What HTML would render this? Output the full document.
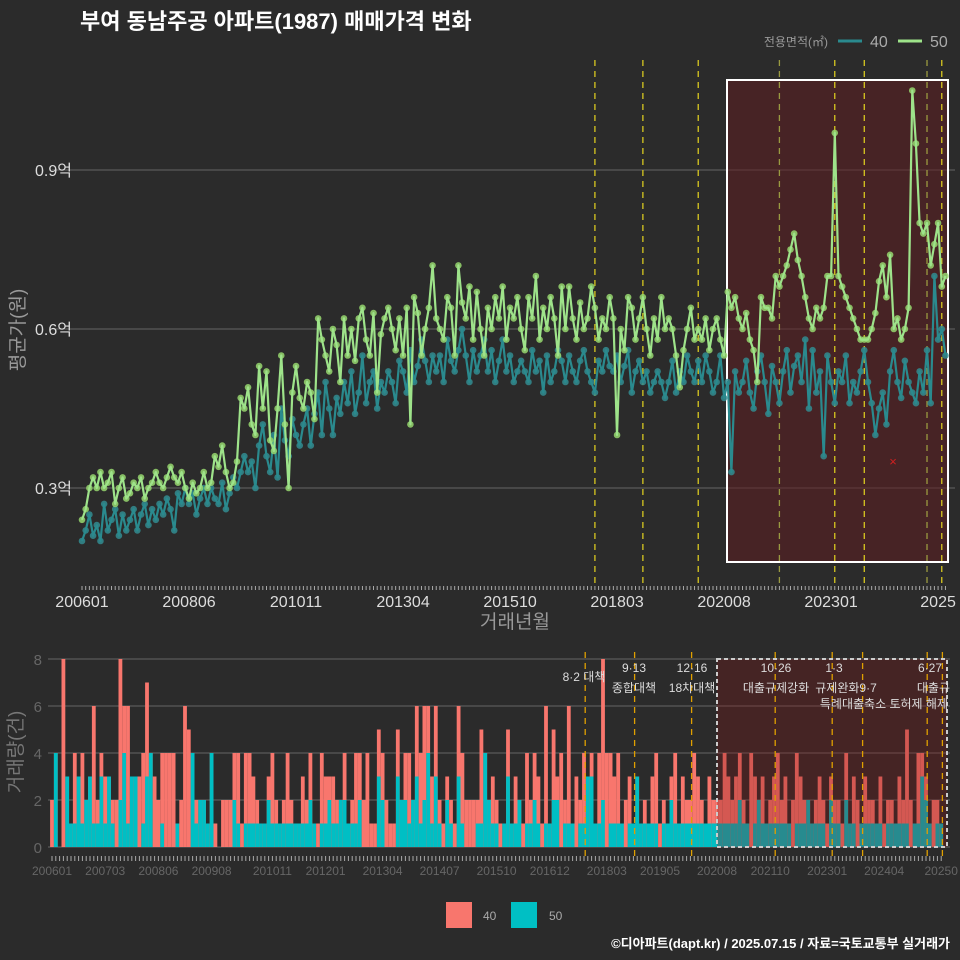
<!DOCTYPE html>
<html><head><meta charset="utf-8"><style>
body{margin:0;background:#2b2b2b;}
svg{display:block;font-family:"Liberation Sans","Noto Sans CJK KR",sans-serif;}
</style></head><body>
<svg id="c" width="960" height="960" viewBox="0 0 960 960">
<rect width="960" height="960" fill="#2b2b2b"/>
<text x="80" y="29" fill="#ffffff" font-size="22" font-weight="bold">부여 동남주공 아파트(1987) 매매가격 변화</text>
<g>
<text x="828" y="46" fill="#999" font-size="12" text-anchor="end">전용면적(㎡)</text>
<line x1="838" y1="41" x2="862" y2="41" stroke="#2a8a8e" stroke-width="3"/>
<text x="870" y="47" fill="#aaa" font-size="16">40</text>
<line x1="898" y1="41" x2="922" y2="41" stroke="#9ee38a" stroke-width="3"/>
<text x="930" y="47" fill="#aaa" font-size="16">50</text>
</g>
<g id="gtop"></g>
<g id="gbot"></g>
<g>
<rect x="446" y="902" width="26" height="26" fill="#f8766d"/>
<text x="483" y="920" fill="#aaa" font-size="12">40</text>
<rect x="511" y="902" width="26" height="26" fill="#00bfc4"/>
<text x="549" y="920" fill="#aaa" font-size="12">50</text>
</g>
<text x="950" y="948" fill="#fff" font-size="13" font-weight="bold" text-anchor="end">©디아파트(dapt.kr) / 2025.07.15 / 자료=국토교통부 실거래가</text>
</svg>
<script>
const price50=[.24,.26,.30,.32,.30,.33,.30,.31,.33,.27,.30,.32,
.28,.29,.31,.30,.32,.28,.30,.31,.33,.31,.30,.32,
.34,.32,.31,.33,.30,.28,.31,.29,.30,.33,.30,.31,
.36,.34,.38,.33,.30,.31,.35,.47,.45,.49,.42,.40,
.53,.45,.52,.39,.37,.45,.55,.42,.30,.48,.53,.47,
.45,.50,.48,.43,.62,.58,.55,.52,.60,.57,.50,.62,
.55,.60,.54,.62,.64,.58,.55,.63,.48,.59,.62,.64,
.60,.56,.62,.55,.64,.42,.66,.63,.55,.60,.64,.72,
.62,.60,.58,.66,.64,.55,.72,.65,.62,.68,.58,.67,
.60,.55,.64,.60,.66,.62,.68,.58,.64,.62,.66,.60,
.56,.66,.62,.70,.58,.64,.60,.66,.62,.55,.68,.60,
.68,.62,.58,.65,.60,.62,.68,.64,.58,.62,.60,.66,
.62,.40,.60,.56,.66,.64,.58,.62,.66,.60,.55,.62,
.58,.66,.60,.62,.60,.55,.49,.56,.60,.64,.58,.60,
.58,.62,.56,.60,.62,.58,.55,.67,.64,.66,.62,.60,
.63,.58,.56,.50,.66,.64,.64,.62,.70,.68,.70,.72,
.75,.78,.73,.70,.66,.62,.60,.64,.62,.64,.70,.70,
.97,.70,.68,.66,.64,.62,.60,.58,.58,.58,.60,.63,
.69,.72,.66,.74,.60,.62,.58,.60,.64,1.05,.95,.80,
.78,.80,.72,.76,.80,.68,.70];
const price40=[.20,.22,.25,.21,.23,.20,.27,.22,.24,.26,.21,.25,
.22,.24,.26,.22,.25,.27,.23,.26,.24,.27,.25,.28,
.26,.22,.29,.27,.30,.27,.29,.25,.28,.30,.27,.30,
.28,.27,.31,.26,.29,.32,.30,.33,.36,.33,.35,.30,
.38,.42,.36,.33,.40,.32,.45,.39,.36,.43,.40,.38,
.42,.45,.38,.44,.48,.40,.50,.45,.40,.47,.44,.50,
.46,.52,.44,.48,.55,.46,.50,.52,.45,.50,.48,.52,
.50,.46,.54,.52,.48,.56,.50,.53,.58,.54,.50,.55,
.52,.55,.50,.58,.54,.52,.56,.60,.55,.50,.56,.52,
.55,.58,.52,.56,.50,.54,.58,.52,.55,.50,.52,.54,
.52,.50,.56,.52,.54,.48,.55,.50,.52,.56,.54,.50,
.55,.52,.50,.54,.56,.52,.50,.48,.54,.52,.56,.53,
.52,.55,.50,.53,.56,.48,.52,.54,.50,.52,.48,.50,
.52,.50,.47,.50,.54,.48,.52,.50,.55,.52,.50,.54,
.50,.55,.52,.48,.50,.55,.47,.50,.33,.52,.48,.50,
.54,.48,.45,.52,.55,.50,.44,.53,.50,.46,.52,.56,
.48,.53,.55,.50,.58,.45,.56,.48,.52,.36,.55,.50,
.46,.52,.50,.55,.46,.50,.48,.52,.56,.50,.46,.40,
.45,.48,.42,.52,.56,.50,.47,.54,.50,.48,.46,.52,
.48,.56,.46,.70,.58,.60,.55];
const volTotal=[2,4,0,8,3,1,4,3,4,2,3,6,
2,4,3,3,2,2,8,6,6,2,1,3,
4,7,2,3,2,4,4,4,4,1,2,6,
5,4,2,2,2,1,4,1,0,2,2,2,
4,4,1,4,4,3,2,1,1,3,4,2,
1,2,4,2,1,1,3,2,4,1,1,4,
3,3,3,2,2,4,1,2,4,4,2,4,
1,1,5,4,2,1,1,5,2,4,4,2,
6,4,6,6,3,6,2,1,3,2,1,6,
4,2,2,2,2,5,4,2,3,2,1,1,
5,1,3,2,1,4,2,4,3,1,6,1,
5,3,4,2,6,1,3,2,4,2,4,1,
4,8,4,4,3,4,1,2,3,1,3,1,
2,1,3,4,1,2,1,3,4,1,3,2,
2,4,3,2,1,3,2,2,2,4,3,2,
3,4,2,1,4,3,2,3,1,2,3,4,
2,3,1,2,4,3,2,2,1,2,3,2,
1,3,2,2,1,4,1,3,2,1,3,2,
2,1,3,1,2,2,1,3,2,5,2,1,
4,4,3,1,2,2,1];
const vol50=[0,4,0,0,3,1,1,3,1,2,3,1,
1,3,1,3,1,0,2,4,1,3,3,0,
1,3,4,0,0,1,0,0,0,1,0,0,
0,4,1,2,2,1,4,0,0,0,0,0,
2,1,0,1,1,1,1,1,1,2,1,1,
1,1,1,1,1,1,1,1,2,1,0,1,
1,2,1,1,2,2,1,1,1,2,0,0,
0,0,3,2,0,0,0,3,2,2,1,2,
3,1,2,4,1,3,1,0,2,1,0,3,
1,0,0,0,1,1,4,2,1,1,0,1,
3,1,1,2,0,1,1,2,1,0,1,1,
2,2,0,1,1,1,0,1,1,3,3,1,
1,2,0,1,1,1,1,0,1,1,3,1,
1,1,1,1,0,1,1,2,1,1,1,1,
1,1,1,1,1,1,1,1,1,1,1,1,
1,2,1,1,0,1,2,1,1,1,1,1,
1,1,1,0,1,1,1,2,1,1,1,1,
0,2,1,1,0,2,1,1,0,1,1,1,
1,1,1,0,1,1,1,1,1,1,0,1,
1,3,2,1,0,1,1];
const priceTicks=[0.3,0.6,0.9];
const priceTickLabels=["0.3억","0.6억","0.9억"];
const volTicks=[0,2,4,6,8];
const topLabelIdx=[0,29,58,87,116,145,174,203,232];
const topLabels=["200601","200806","201011","201304","201510","201803","202008","202301","2025"];
const botLabelIdx=[0,14,28,42,58,72,87,102,117,131,146,160,175,189,204,219,234];
const botLabels=["200601","200703","200806","200908","201011","201201","201304","201407","201510","201612","201803","201905","202008","202110","202301","202404","20250"];
const policyIdx=[139,152,167,189,204,212,229,233];

const NS="http://www.w3.org/2000/svg";
function mk(p,t,a){const e=document.createElementNS(NS,t);for(const k in a)e.setAttribute(k,a[k]);p.appendChild(e);return e;}
const gTop=document.getElementById('gtop'),gBot=document.getElementById('gbot');
const n=price50.length;
const xT=i=>82+i*3.69, yT=v=>488-(v-0.3)*530;
const xB=i=>52+i*3.8, yB=v=>847-v*23.5;

priceTicks.forEach((t,k)=>{
 let l=mk(gTop,'line',{x1:52,x2:955,y1:yT(t),y2:yT(t),stroke:'#666','stroke-width':1});
 
 
 let tx=mk(gTop,'text',{x:72,y:yT(t)+6,fill:'#ddd','font-size':16,'text-anchor':'end'});tx.textContent=priceTickLabels[k];
 
 
});
let hr=mk(gTop,'rect',{x:727,y:80,width:221,height:482,fill:'rgba(95,30,32,0.55)',stroke:'#fff','stroke-width':2});


policyIdx.forEach((p,k)=>{
 let l=mk(gTop,'line',{x1:xT(p),x2:xT(p),y1:60,y2:588,stroke:(k==3||k==6)?'#9a9a40':'#d8c820','stroke-width':1.3,'stroke-dasharray':'6,5'});
 
 
});
function drawLine(arr,col,name){
 let d='';arr.forEach((v,i)=>{if(v==null)return;d+=(d?'L':'M')+xT(i).toFixed(1)+','+yT(v).toFixed(1);});
 let p=mk(gTop,'path',{d:d,fill:'none',stroke:col,'stroke-width':2.2,'stroke-linejoin':'round'});
 
 
}
function drawDots(arr,col,name){
 arr.forEach((v,i)=>{if(v==null)return;
  let c=mk(gTop,'circle',{cx:xT(i),cy:yT(v),r:3.3,fill:col});
  
  
 });
}
drawDots(price40,'rgba(50,140,145,0.85)','point-40');
drawLine(price40,'#2a8a8e','line-40');
drawDots(price50,'rgba(150,215,110,0.85)','point-50');
drawLine(price50,'#9ee38a','line-50');
let rx=mk(gTop,'text',{x:893,y:466,fill:'#d02020','font-size':13,'text-anchor':'middle'});rx.textContent='×';


for(let i=0;i<n;i++){let t=mk(gTop,'line',{x1:xT(i),x2:xT(i),y1:586,y2:590,stroke:'#aaa','stroke-width':1});
 
 }
topLabelIdx.forEach((i,k)=>{
 let t=mk(gTop,'text',{x:xT(i),y:607,fill:'#ddd','font-size':16,'text-anchor':'middle'});t.textContent=topLabels[k];
 
 
});
let xt=mk(gTop,'text',{x:515,y:628,fill:'#999','font-size':19,'text-anchor':'middle'});xt.textContent='거래년월';


let yt=mk(gTop,'text',{x:0,y:0,fill:'#999','font-size':19,'text-anchor':'middle',transform:'translate(24,330) rotate(-90)'});yt.textContent='평균가(원)';



volTicks.forEach(t=>{
 let l=mk(gBot,'line',{x1:48,x2:950,y1:yB(t),y2:yB(t),stroke:'#666','stroke-width':1});
 
 
 let tx=mk(gBot,'text',{x:42,y:yB(t)+6,fill:'#666','font-size':15,'text-anchor':'end'});tx.textContent=t;
 
 
});
for(let i=0;i<n;i++){
 const tot=Math.max(volTotal[i],vol50[i]);
 if(tot>0){let b=mk(gBot,'rect',{x:xB(i)-1.9,y:yB(tot),width:3.8,height:yB(0)-yB(tot),fill:'#f8766d'});
 
 }
 if(vol50[i]>0){let b=mk(gBot,'rect',{x:xB(i)-1.9,y:yB(vol50[i]),width:3.8,height:yB(0)-yB(vol50[i]),fill:'#00bfc4'});
 
 }
}
let br=mk(gBot,'rect',{x:717,y:659,width:230,height:188,fill:'rgba(130,20,20,0.3)',stroke:'#ccc','stroke-width':2,'stroke-dasharray':'4,3'});


policyIdx.forEach((p,k)=>{
 let l=mk(gBot,'line',{x1:xB(p)+5,x2:xB(p)+5,y1:652,y2:858,stroke:'#e0a000','stroke-width':1.3,'stroke-dasharray':'6,5'});
 
 
});
const ann=[[584,681,"8·2 대책"],[634,672,"9·13"],[634,692,"종합대책"],[692,672,"12·16"],[692,692,"18차대책"],[776,672,"10·26"],[776,692,"대출규제강화"],[834,672,"1·3"],[846,692,"규제완화9·7"],[948,708,"특례대출축소 토허제 해제"],[942,672,"6·27"],[950,692,"대출규"]];
ann.forEach(a=>{
 let t=mk(gBot,'text',{x:a[0],y:a[1],fill:'#ddd','font-size':12,'text-anchor':a[0]>920?'end':'middle'});t.textContent=a[2];
 
 
});
for(let i=0;i<n;i++){let t=mk(gBot,'line',{x1:xB(i),x2:xB(i),y1:856,y2:861,stroke:'#aaa','stroke-width':1});
 
 }
botLabelIdx.forEach((i,k)=>{
 let t=mk(gBot,'text',{x:xB(i),y:875,fill:'#666','font-size':12,'text-anchor':'middle'});t.textContent=botLabels[k];
 
 
});
let vt=mk(gBot,'text',{x:0,y:0,fill:'#777','font-size':19,'text-anchor':'middle',transform:'translate(22,752) rotate(-90)'});vt.textContent='거래량(건)';


</script>
</body></html>
